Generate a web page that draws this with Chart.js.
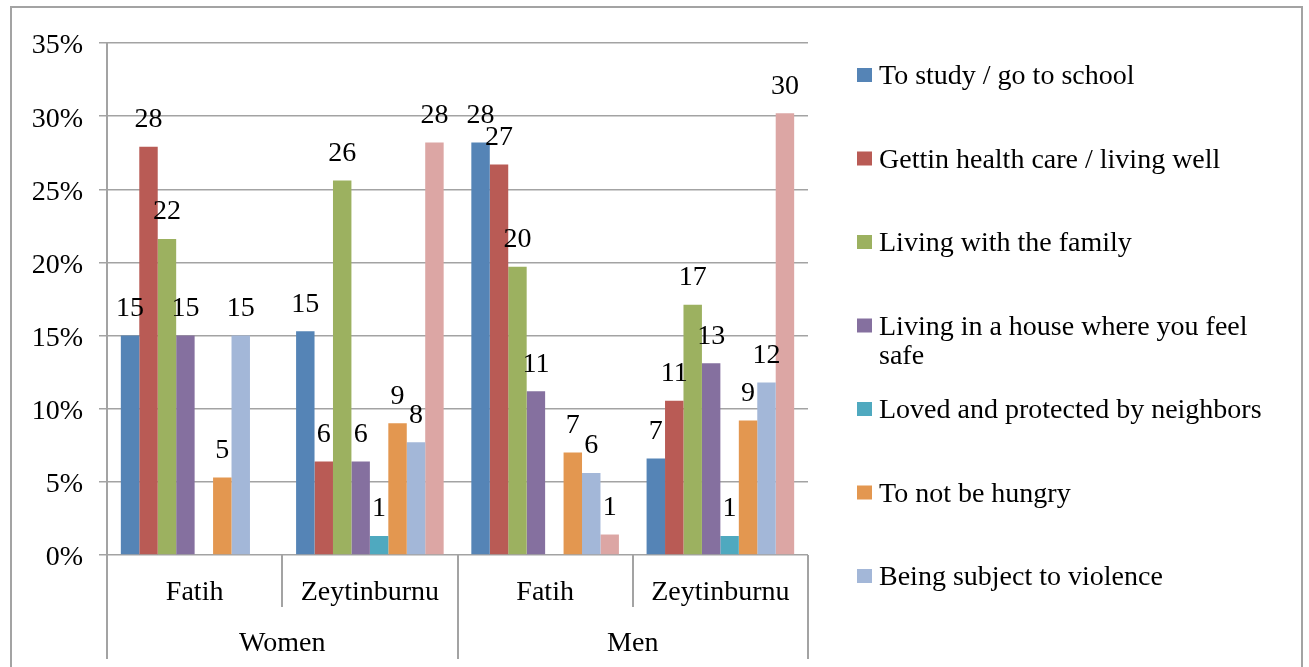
<!DOCTYPE html>
<html>
<head>
<meta charset="utf-8">
<title>Wishes by district</title>
<script src="https://cdn.jsdelivr.net/npm/chart.js@4.4.1/dist/chart.umd.min.js"></script>
<style>
  html, body { margin: 0; padding: 0; background: #fff; }
  #wrap { width: 1309px; height: 667px; }
</style>
</head>
<body>
<div id="wrap"><canvas id="chart" width="1309" height="667"></canvas></div>
<script>
// categories
const groups = ["Women", "Men"];
const places = ["Fatih", "Zeytinburnu", "Fatih", "Zeytinburnu"];

// series (percent), one value per place
const studySchool = [15.0, 15.3, 28.2, 6.6];
const healthCare = [27.9, 6.4, 26.7, 10.55];
const familyLife = [21.6, 25.6, 19.7, 17.1];
const safeHouse = [15.0, 6.4, 11.2, 13.1];
const neighbors = [null, 1.3, null, 1.3];
const notHungry = [5.3, 9.0, 7.0, 9.2];
const violence = [15.0, 7.7, 5.6, 11.8];
const other = [null, 28.2, 1.4, 30.2];

const seriesNames = [
  "To study / go to school",
  "Gettin health care / living well",
  "Living with the family",
  "Living in a house where you feel safe",
  "Loved and protected by neighbors",
  "To not be hungry",
  "Being subject to violence",
  "Other"
];
const seriesData = [studySchool, healthCare, familyLife, safeHouse, neighbors, notHungry, violence, other];
const seriesColors = ["#5584B6", "#B95B55", "#9CB160", "#85709F", "#4FA9BF", "#E39750", "#A3B7D8", "#DCA6A4"];

// legend only shows the first 7 (last one is cut off in the original)
const legendCount = 7;

const FONT = '"Liberation Serif", "Times New Roman", serif';
const GRID = "#a3a3a3";

// draws the frame, the two-level category axis, value labels and legend
const decor = {
  id: "decor",
  beforeDraw(chart) {
    const c = chart.ctx;
    c.save();
    c.fillStyle = "#fff";
    c.fillRect(0, 0, chart.width, chart.height);
    c.strokeStyle = GRID;
    c.lineWidth = 2;
    c.beginPath();
    c.moveTo(11, chart.height + 2);
    c.lineTo(11, 7);
    c.lineTo(1302, 7);
    c.lineTo(1302, chart.height + 2);
    c.stroke();
    c.restore();
  },
  afterDraw(chart) {
    const c = chart.ctx;
    const a = chart.chartArea;
    const xs = chart.scales.x;
    const step = (a.right - a.left) / places.length;
    c.save();

    // category separators
    c.strokeStyle = GRID;
    c.lineWidth = 2;
    for (let i = 0; i <= places.length; i++) {
      const px = Math.round(a.left + step * i);
      c.beginPath();
      c.moveTo(px, a.bottom);
      c.lineTo(px, i % 2 === 0 ? a.bottom + 104 : a.bottom + 52);
      c.stroke();
    }

    c.fillStyle = "#000";
    c.font = "28px " + FONT;
    c.textAlign = "center";
    c.textBaseline = "middle";
    places.forEach((p, i) => c.fillText(p, xs.getPixelForValue(i), a.bottom + 38));
    groups.forEach((g, i) => {
      const mid = (xs.getPixelForValue(i * 2) + xs.getPixelForValue(i * 2 + 1)) / 2;
      c.fillText(g, mid, a.bottom + 89);
    });

    // value labels
    chart.data.datasets.forEach((ds, di) => {
      chart.getDatasetMeta(di).data.forEach((bar, i) => {
        const v = ds.data[i];
        if (v == null) return;
        c.fillText(String(Math.round(v)), bar.x, bar.y - 27);
      });
    });

    // legend
    c.textAlign = "left";
    for (let i = 0; i < legendCount; i++) {
      const y = 77 + 83.5 * i;
      c.fillStyle = seriesColors[i];
      c.fillRect(857, y - 9, 15, 14);
      c.fillStyle = "#000";
      const words = seriesNames[i].split(" ");
      let line = "";
      let ly = y;
      words.forEach((w) => {
        const test = line ? line + " " + w : w;
        if (line && c.measureText(test).width > 400) {
          c.fillText(line, 879, ly);
          line = w;
          ly += 29;
        } else {
          line = test;
        }
      });
      c.fillText(line, 879, ly);
    }
    c.restore();
  }
};

new Chart(document.getElementById("chart"), {
  type: "bar",
  data: {
    labels: places,
    datasets: seriesData.map((d, i) => ({
      label: seriesNames[i],
      data: d,
      backgroundColor: seriesColors[i],
      borderWidth: 0,
      barPercentage: 1,
      categoryPercentage: 8 / 9.5
    }))
  },
  options: {
    responsive: false,
    devicePixelRatio: 1,
    animation: false,
    layout: { padding: { left: 0, top: 43, right: 501, bottom: 112 } },
    plugins: {
      legend: { display: false },
      tooltip: { enabled: false }
    },
    scales: {
      x: { display: false },
      y: {
        min: 0,
        max: 35,
        ticks: {
          stepSize: 5,
          padding: 16,
          labelOffset: 3,
          color: "#000",
          font: { family: FONT, size: 28 },
          callback: (v) => v + "%"
        },
        grid: { color: GRID, lineWidth: 1.5, tickLength: 8 },
        border: { color: GRID, width: 2 },
        afterFit: (s) => { s.width = 107; }
      }
    }
  },
  plugins: [decor]
});
</script>
</body>
</html>
